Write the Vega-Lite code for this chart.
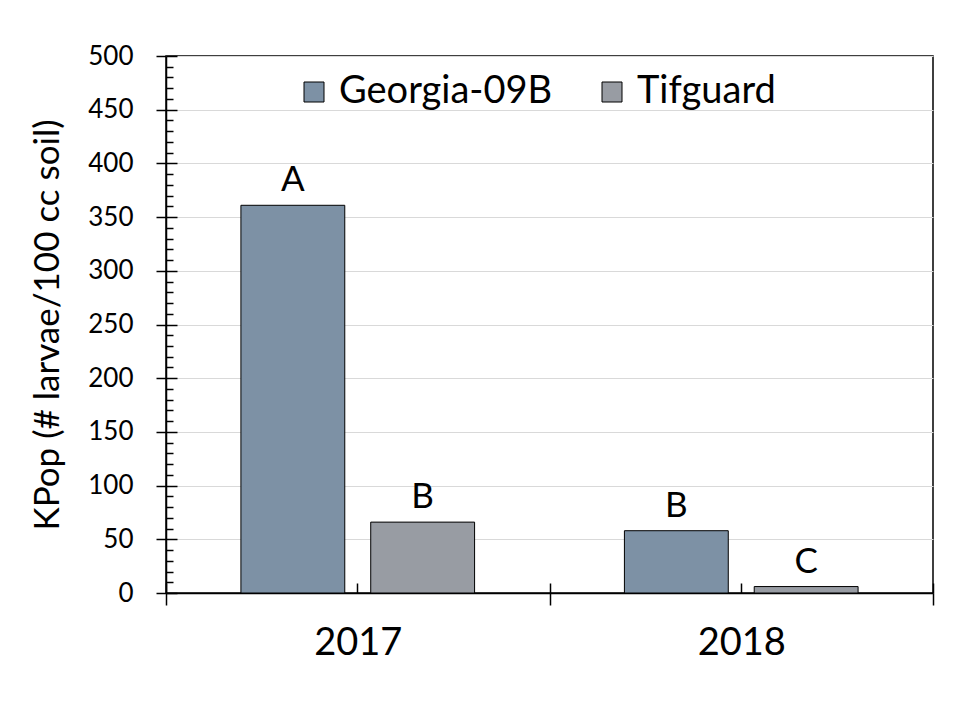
{
  "$schema": "https://vega.github.io/schema/vega-lite/v6.json",
  "width": 767,
  "height": 537,
  "autosize": {"type": "none"},
  "padding": {"left": 166, "top": 56, "right": 27, "bottom": 127},
  "background": "white",
  "config": {
    "font": "Lato",
    "view": {"stroke": "black", "strokeWidth": 1.5}
  },
  "data": {
    "values": [
      {"year": "2017", "variety": "Georgia-09B", "kpop": 361, "letter": "A"},
      {"year": "2017", "variety": "Tifguard", "kpop": 66, "letter": "B"},
      {"year": "2018", "variety": "Georgia-09B", "kpop": 58, "letter": "B"},
      {"year": "2018", "variety": "Tifguard", "kpop": 6, "letter": "C"}
    ]
  },
  "layer": [
    {
      "mark": {"type": "bar", "stroke": "black", "strokeWidth": 1},
      "encoding": {
        "x": {
          "field": "year", "type": "nominal",
          "scale": {"paddingInner": 0, "paddingOuter": 0},
          "axis": {
            "orient": "bottom", "title": null, "labelAngle": 0,
            "tickBand": "extent", "tickSize": 12, "tickWidth": 1.5, "tickColor": "black",
            "domainColor": "black", "domainWidth": 1.5,
            "labelFontSize": 38, "labelColor": "black", "labelPadding": 19
          }
        },
        "xOffset": {
          "field": "variety", "type": "nominal",
          "scale": {"paddingInner": 0.2, "paddingOuter": 0.577}
        },
        "y": {
          "field": "kpop", "type": "quantitative",
          "scale": {"domain": [0, 500]},
          "axis": {
            "orient": "left",
            "values": [0, 50, 100, 150, 200, 250, 300, 350, 400, 450, 500],
            "tickSize": 10, "tickWidth": 1.5, "tickColor": "black",
            "domainColor": "black", "domainWidth": 1.5,
            "grid": true, "gridColor": "#d9d9d9", "gridWidth": 1,
            "labelFontSize": 26, "labelColor": "black", "labelPadding": 23,
            "title": "KPop (# larvae/100 cc soil)",
            "titleFontSize": 35, "titleFontWeight": "normal", "titleColor": "black",
            "titlePadding": 22
          }
        },
        "color": {
          "field": "variety", "type": "nominal",
          "scale": {"domain": ["Georgia-09B", "Tifguard"], "range": ["#7d91a5", "#989ca3"]},
          "legend": {
            "orient": "none", "legendX": 129, "legendY": 17,
            "direction": "horizontal", "title": null,
            "symbolType": "square", "symbolSize": 400,
            "symbolStrokeColor": "black", "symbolStrokeWidth": 1,
            "labelFontSize": 38, "labelColor": "black", "labelOffset": 6,
            "labelLimit": 0, "columnPadding": 40, "padding": 0
          }
        }
      }
    },
    {
      "mark": {"type": "text", "baseline": "alphabetic", "dy": -14, "fontSize": 35, "color": "black"},
      "encoding": {
        "x": {
          "field": "year", "type": "nominal",
          "axis": {
            "orient": "bottom", "title": null, "labels": false, "domain": false, "grid": false,
            "tickBand": "extent", "tickSize": -10, "tickWidth": 1.5, "tickColor": "black"
          }
        },
        "xOffset": {"field": "variety", "type": "nominal"},
        "y": {
          "field": "kpop", "type": "quantitative",
          "axis": {
            "orient": "left", "title": null, "labels": false, "domain": false, "grid": false,
            "values": [0, 10, 20, 30, 40, 50, 60, 70, 80, 90, 100, 110, 120, 130, 140, 150, 160, 170, 180, 190, 200, 210, 220, 230, 240, 250, 260, 270, 280, 290, 300, 310, 320, 330, 340, 350, 360, 370, 380, 390, 400, 410, 420, 430, 440, 450, 460, 470, 480, 490, 500],
            "tickSize": {"condition": {"test": "datum.value % 50 === 0", "value": -11}, "value": -7},
            "tickWidth": 1.5, "tickColor": "black"
          }
        },
        "text": {"field": "letter"}
      }
    },
    {
      "mark": {"type": "bar", "opacity": 0},
      "encoding": {
        "x": {
          "field": "year", "type": "nominal",
          "axis": {
            "orient": "bottom", "title": null, "labels": false, "domain": false, "grid": false,
            "tickBand": "center", "tickSize": -10, "tickWidth": 1.5, "tickColor": "black"
          }
        },
        "xOffset": {"field": "variety", "type": "nominal"},
        "y": {"field": "kpop", "type": "quantitative", "axis": null}
      }
    }
  ],
  "resolve": {"axis": {"x": "independent", "y": "independent"}}
}
